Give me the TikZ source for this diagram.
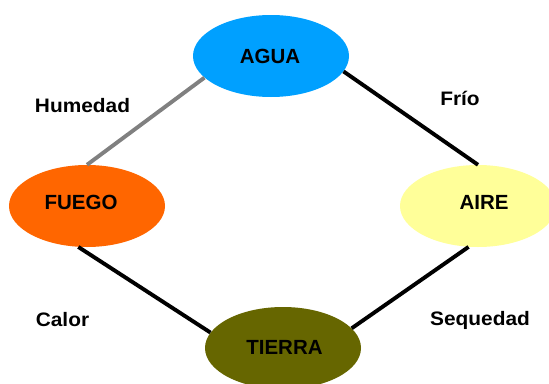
\documentclass[tikz,border=0pt]{standalone}
\usepackage{fontspec}
\setmainfont{Liberation Sans}
\newfontfamily\widesans[FakeStretch=1.07]{Liberation Sans}
\usepackage{xcolor}
\usepackage{tikz}
\usetikzlibrary{shapes.geometric}
\definecolor{aguablue}{RGB}{0,160,255}
\definecolor{fuegoorange}{RGB}{255,102,0}
\definecolor{aireyellow}{RGB}{255,255,153}
\definecolor{tierraolive}{RGB}{102,102,0}
\tikzset{
  el element/.style={
    ellipse,
    minimum width=156pt,
    minimum height=82pt,
    inner sep=0pt,
    draw=none,
  },
  el text/.style={
    font=\fontsize{20.5}{24}\selectfont\bfseries,
    inner sep=0pt,
  },
  el quality/.style={
    font=\widesans\fontsize{19.5}{23}\selectfont\bfseries,
    inner sep=0pt,
    anchor=base,
  },
  el link/.style={line width=3.9pt},
}

\begin{document}
\begin{tikzpicture}[x=1pt,y=-1pt]
  \useasboundingbox (0,0) rectangle (549,383);

  \node[el element,fill=aguablue,
    label={[el text,xshift=-1pt]center:AGUA}] (agua) at (271,56) {};
  \node[el element,fill=fuegoorange,
    label={[el text,xshift=-6pt,yshift=3.5pt]center:FUEGO}] (fuego) at (87,206) {};
  \node[el element,fill=aireyellow,
    label={[el text,xshift=6pt,yshift=3.5pt]center:AIRE}] (aire) at (478,206) {};
  \node[el element,fill=tierraolive,
    label={[el text,xshift=1.5pt,yshift=0.5pt]center:TIERRA}] (tierra) at (283,348) {};

  \node[el quality] (humedad) at (82.5,112) {Humedad};
  \node[el quality] (frio) at (460,105) {Frío};
  \node[el quality] (calor) at (62.5,326) {Calor};
  \node[el quality] (sequedad) at (480,325) {Sequedad};

  \draw[el link,draw=gray] (fuego.north) -- (agua.198);
  \draw[el link] (agua.348) -- (aire.north);
  \draw[el link] (fuego.258) -- (tierra.168);
  \draw[el link] (aire.257) -- (tierra.16);
\end{tikzpicture}
\end{document}
